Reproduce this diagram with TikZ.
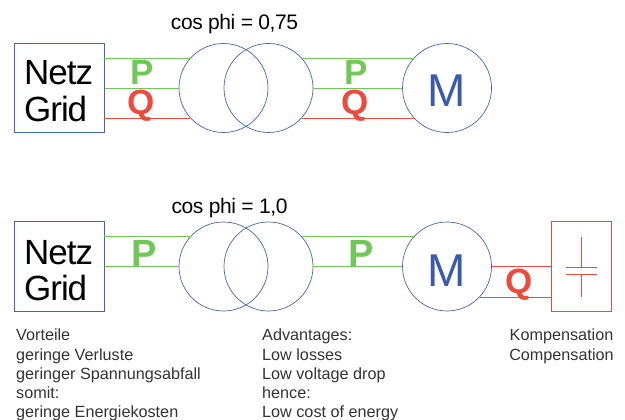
\documentclass[tikz,border=0pt]{standalone}
\usepackage{fontspec}
\setmainfont{Liberation Sans}
\newfontfamily\tightA[LetterSpace=-3]{Liberation Sans}
\newfontfamily\tightB[LetterSpace=-2]{Liberation Sans}
\definecolor{bl}{HTML}{4464B0}
\definecolor{bm}{HTML}{3A5BAA}
\definecolor{gr}{HTML}{70C858}
\definecolor{rd}{HTML}{EE4A3C}
\definecolor{tx}{HTML}{333333}
\tikzset{x=1pt,y=-1pt,
 boxn/.style={draw=bl,line width=0.8pt,minimum size=89.5pt,inner sep=0pt},
 gtext/.style={inner sep=0pt,anchor=base west,text=black,font=\tightA\fontsize{35}{37}\selectfont},
 ring/.style={circle,draw=bl,line width=0.7pt,minimum size=89pt,inner sep=0pt},
 motor/.style={ring,text=bm,font=\fontsize{46}{46}\selectfont},
 gline/.style={draw=gr,line width=0.8pt},
 rline/.style={draw=rd,line width=0.8pt},
 pl/.style={text=gr,inner sep=0pt,anchor=base,font=\fontsize{35}{35}\selectfont\bfseries},
 pn/.style={text=gr,inner sep=0pt,anchor=base,font=\fontsize{38}{38}\selectfont\bfseries},
 ql/.style={text=rd,inner sep=0pt,anchor=base,font=\fontsize{35}{35}\selectfont\bfseries},
 cosl/.style={inner sep=0pt,anchor=base,text=black,font=\tightB\fontsize{21}{21}\selectfont},
 note/.style={inner sep=0pt,text=tx,font=\fontsize{16.2}{19.25}\selectfont},
}
\newcommand{\motorM}[1]{\raisebox{-#1pt}[0pt][0pt]{M}}
\begin{document}
\begin{tikzpicture}
\useasboundingbox (0,0) rectangle (625,420);
% top row
\node[boxn] (g1) at (59.5,88) {};
\node[gtext] (g1a) at (24,85) {Netz};
\node[gtext] (g1b) at (24,122) {Grid};
\node[ring] (t1a) at (223.5,88) {};
\node[ring] (t1b) at (268.5,88) {};
\node[motor] (m1) at (447,88) {\motorM{19}};
\coordinate (g1u) at (104,58);
\coordinate (g1d) at (104,118);
\draw[gline] (g1u) -- (g1u -| t1a.137.6);
\draw[gline] (g1.east) -- (t1a.west);
\draw[rline] (g1d) -- (g1d -| t1a.222.4);
\draw[gline] (g1u -| t1b.42.4) -- (g1u -| m1.137.6);
\draw[gline] (t1b.east) -- (m1.west);
\draw[rline] (g1d -| t1b.-42.4) -- (g1d -| m1.222.4);
\node[pl] (p1) at (142,85) {P};
\node[ql] (q1) at (141,114.5) {Q};
\node[pl] (p2) at (356,85) {P};
\node[ql] (q2) at (355,114.5) {Q};
\node[cosl] (c1) at (234.5,30) {cos phi = 0,75};
% bottom row
\node[boxn] (g2) at (59.5,266.5) {};
\node[gtext] (g2a) at (24,264) {Netz};
\node[gtext] (g2b) at (24,300) {Grid};
\node[ring] (t2a) at (223.5,266.5) {};
\node[ring] (t2b) at (268.5,266.5) {};
\node[motor] (m2) at (447,266.5) {\motorM{20.5}};
\coordinate (g2u) at (104,236.5);
\draw[gline] (g2u) -- (g2u -| t2a.137.6);
\draw[gline] (g2.east) -- (t2a.west);
\draw[gline] (g2u -| t2b.42.4) -- (g2u -| m2.137.6);
\draw[gline] (t2b.east) -- (m2.west);
\node[pn] (p3) at (144,266) {P};
\node[pn] (p4) at (361,266) {P};
\node[cosl] (c2) at (229.5,214) {cos phi = 1,0};
% capacitor
\node[draw=rd,line width=0.8pt,minimum width=60pt,minimum height=89.5pt,inner sep=0pt] (k) at (581,266.5) {};
\coordinate (ktop) at (581.5,237);
\coordinate (kbot) at (581.5,297);
\coordinate (pa) at (581.5,267);
\coordinate (pb) at (581.5,274);
\draw[rline] (ktop) -- (pa);
\draw[rline] (pb) -- (kbot);
\draw[rline] (566,267) -- (597,267);
\draw[rline] (566,274) -- (597,274);
\coordinate (ku) at (k.west |- m2.east);
\coordinate (kd) at (k.west |- kbot);
\draw[rline] (m2.east) -- (ku);
\draw[rline] (kd -| m2.-42.4) -- (kd);
\node[ql] (q3) at (519,293.5) {Q};
% notes
\node[note,anchor=north west,align=left] (n1) at (16,329) {Vorteile\\geringe Verluste\\geringer Spannungsabfall\\somit:\\geringe Energiekosten};
\node[note,anchor=north west,align=left] (n2) at (262,329) {Advantages:\\Low losses\\Low voltage drop\\hence:\\Low cost of energy};
\node[note,anchor=north,align=center] (n3) at (561.5,329) {Kompensation\\Compensation};
\end{tikzpicture}
\end{document}
